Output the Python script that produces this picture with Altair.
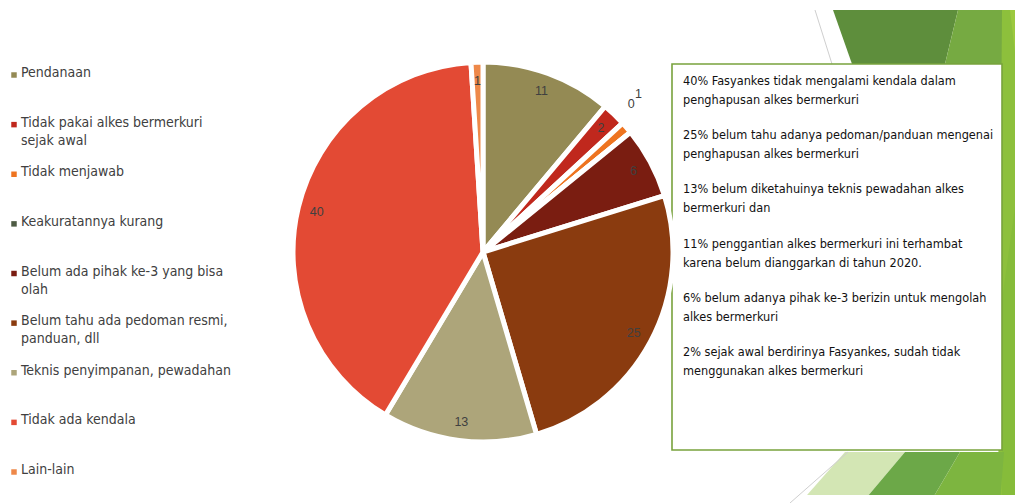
import altair as alt
import pandas as pd

# ---- data ----
categories = [
    "Pendanaan",
    "Tidak pakai alkes bermerkuri sejak awal",
    "Tidak menjawab",
    "Keakuratannya kurang",
    "Belum ada pihak ke-3 yang bisa olah",
    "Belum tahu ada pedoman resmi, panduan, dll",
    "Teknis penyimpanan, pewadahan",
    "Tidak ada kendala",
    "Lain-lain",
]
legend_labels = [
    "Pendanaan",
    "Tidak pakai alkes bermerkuri\nsejak awal",
    "Tidak menjawab",
    "Keakuratannya kurang",
    "Belum ada pihak ke-3 yang bisa\nolah",
    "Belum tahu ada pedoman resmi,\npanduan, dll",
    "Teknis penyimpanan, pewadahan",
    "Tidak ada kendala",
    "Lain-lain",
]
values = [11, 2, 1, 0, 6, 25, 13, 40, 1]
colors = ["#948A54", "#C0281D", "#EE7420", "#4E5B44", "#7A1D11",
          "#8A3B0F", "#ADA57A", "#E34A34", "#EE8849"]

notes = [
    "40% Fasyankes tidak mengalami kendala dalam\npenghapusan alkes bermerkuri",
    "25% belum tahu adanya pedoman/panduan mengenai\npenghapusan alkes bermerkuri",
    "13% belum diketahuinya teknis pewadahan alkes\nbermerkuri dan",
    "11% penggantian alkes bermerkuri ini terhambat\nkarena belum dianggarkan di tahun 2020.",
    "6% belum adanya pihak ke-3 berizin untuk mengolah\nalkes bermerkuri",
    "2% sejak awal berdirinya Fasyankes, sudah tidak\nmenggunakan alkes bermerkuri",
]

df = pd.DataFrame({"cat": categories, "label": legend_labels,
                   "value": values, "idx": list(range(len(values)))})
notes_df = pd.DataFrame({"note": notes, "i": list(range(len(notes)))})

W, H = 1007, 487
CX, CY, R = 475, 244, 190
FONT = "DejaVu Sans Condensed, sans-serif"

color_scale = alt.Scale(domain=categories, range=colors)

# ---- decorative slide background (pixel polygons) ----
def poly(pts, c):
    pts = [[x - 8, y - 8] for x, y in pts]
    return {"type": "Feature", "properties": {"c": c},
            "geometry": {"type": "Polygon", "coordinates": [pts + [pts[0]]]}}

deco_feats = [
    poly([(833, 10), (958, 10), (945, 64), (852, 64)], "#5E8E3C"),
    poly([(958, 10), (1010, 10), (1002, 64), (945, 64)], "#76AA42"),
    poly([(1002, 10), (1023, 10), (1023, 503), (998, 503)], "#8DC03C"),
    poly([(1010, 10), (1023, 10), (1023, 120)], "#9CC93F"),
    poly([(1002, 300), (1023, 150), (1023, 503), (1002, 503)], "#86BC3A"),
    poly([(845, 452), (905, 452), (862, 503), (800, 503)], "#D3E6B4"),
    poly([(905, 452), (960, 452), (930, 503), (862, 503)], "#6CA848"),
    poly([(960, 452), (1004, 452), (1000, 503), (930, 503)], "#7DB540"),
]
deco = alt.Chart(alt.Data(values=deco_feats)).mark_geoshape(
    strokeWidth=0
).encode(
    fill=alt.Fill("properties.c:N", scale=None)
).project(type="identity", scale=1, translate=[0, 0])

line1 = alt.Chart(pd.DataFrame({"k": [0]})).mark_rule(color="#CFCFCF", strokeWidth=1).encode(
    x=alt.value(815 - 8), y=alt.value(10 - 8), x2=alt.value(832 - 8), y2=alt.value(64 - 8))
line2 = alt.Chart(pd.DataFrame({"k": [0]})).mark_rule(color="#CFCFCF", strokeWidth=1).encode(
    x=alt.value(790 - 8), y=alt.value(503 - 8), x2=alt.value(848 - 8), y2=alt.value(452 - 8))

# ---- text box ----
box = alt.Chart(pd.DataFrame({"k": [0]})).mark_rect(
    fill="white", stroke="#78A23C", strokeWidth=1.6
).encode(
    x=alt.value(672 - 8), x2=alt.value(1002 - 8),
    y=alt.value(64 - 8), y2=alt.value(450 - 8)
)
note_text = alt.Chart(notes_df).mark_text(
    align="left", baseline="top", font=FONT, fontSize=12.6, color="#111111",
    lineBreak="\n", lineHeight=19
).encode(
    x=alt.value(683 - 8),
    y=alt.Y("i:Q", scale=alt.Scale(domain=[0, 5], range=[75 - 8, 346 - 8]), axis=None),
    text="note:N",
)

# ---- pie ----
base = alt.Chart(df).encode(
    theta=alt.Theta("value:Q", stack=True),
    order=alt.Order("idx:Q"),
    x=alt.value(CX), y=alt.value(CY),
)
pie = base.mark_arc(stroke="white", strokeWidth=5, outerRadius=R).encode(
    color=alt.Color("cat:N", scale=color_scale, legend=None)
)
hide_small = (alt.datum.cat != "Tidak menjawab") & (alt.datum.cat != "Keakuratannya kurang")
labels_in = base.mark_text(font="Liberation Sans", fontSize=12.5, color="#404040").encode(
    radius=alt.value(171),
    text="value:Q",
    opacity=alt.condition(hide_small, alt.value(1), alt.value(0)),
)
label_one = base.mark_text(font="Liberation Sans", fontSize=12.5, color="#404040",
                           dx=-7, dy=-17).encode(
    radius=alt.value(215),
    text="value:Q",
    opacity=alt.condition(alt.datum.cat == "Tidak menjawab", alt.value(1), alt.value(0)),
)
label_zero = base.mark_text(font="Liberation Sans", fontSize=12.5, color="#404040",
                            dx=-7, dy=-22).encode(
    radius=alt.value(200),
    text="value:Q",
    opacity=alt.condition(alt.datum.cat == "Keakuratannya kurang", alt.value(1), alt.value(0)),
)

# ---- legend ----
leg_y = alt.Y("idx:Q", scale=alt.Scale(domain=[0, 8], range=[75 - 8, 472 - 8]), axis=None)
leg_sq = alt.Chart(df).mark_square(size=30, opacity=1).encode(
    x=alt.value(14 - 8), y=leg_y,
    color=alt.Color("cat:N", scale=color_scale, legend=None),
)
leg_txt = alt.Chart(df).mark_text(
    align="left", baseline="top", font=FONT, fontSize=14, color="#404040",
    lineBreak="\n", lineHeight=18, dy=-9
).encode(
    x=alt.value(21 - 8), y=leg_y, text="label:N"
)

chart = alt.layer(
    deco, line1, line2, box, note_text, pie, labels_in, label_one, label_zero, leg_sq, leg_txt
).resolve_scale(y="independent").properties(
    width=W, height=H, padding=0, background="white"
).configure_view(stroke=None)

chart.save("out.html", embed_options={"renderer": "svg", "actions": False})
